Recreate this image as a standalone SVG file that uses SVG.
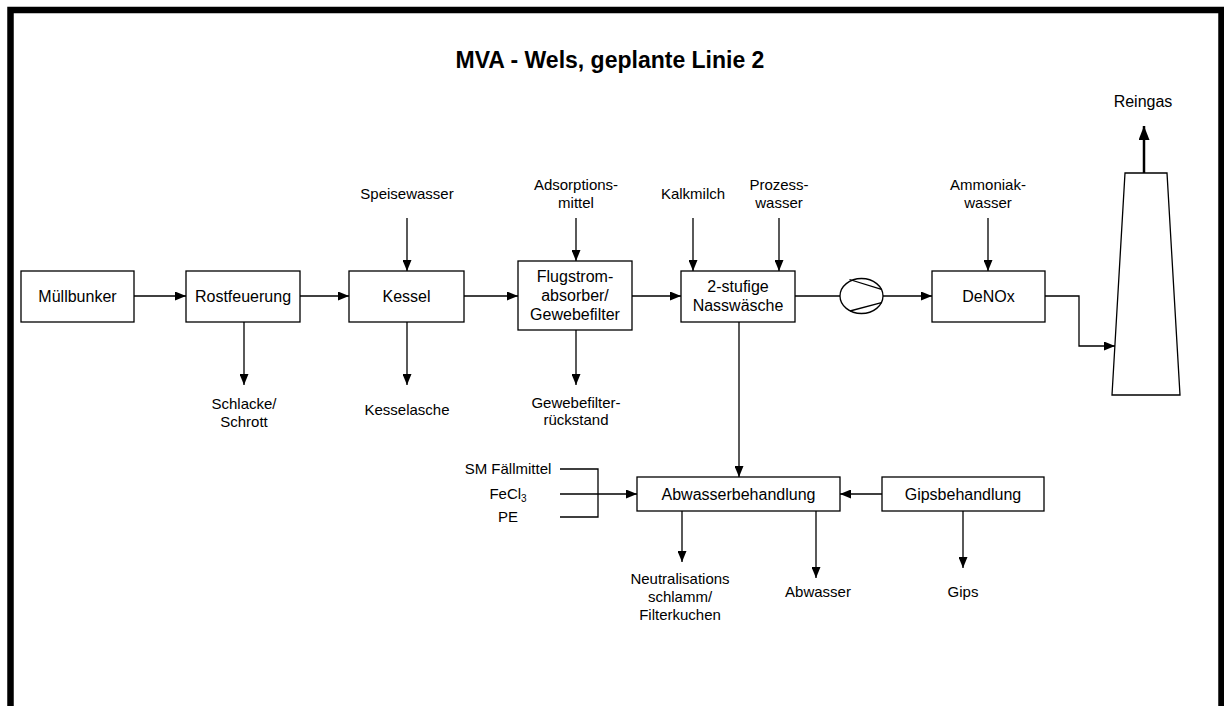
<svg xmlns="http://www.w3.org/2000/svg" width="1224" height="706" viewBox="0 0 1224 706">
<style>
.box{fill:#fff;stroke:#000;stroke-width:1.3}
.ln{fill:none;stroke:#000;stroke-width:1.3}
text{font-family:"Liberation Sans",Arial,sans-serif;fill:#000}
.bl{font-size:16px;text-anchor:middle}
.sl{font-size:15px;text-anchor:middle}
.title{font-size:23px;font-weight:bold;text-anchor:middle}
</style>
<defs>
<marker id="ah" markerUnits="userSpaceOnUse" markerWidth="12" markerHeight="9" refX="11" refY="4.5" orient="auto">
<path d="M0,0 L11,4.5 L0,9 z" fill="#000"/>
</marker>
<marker id="ahb" markerUnits="userSpaceOnUse" markerWidth="15" markerHeight="11" refX="14" refY="5.5" orient="auto">
<path d="M0,0 L14,5.5 L0,11 z" fill="#000"/>
</marker>
</defs>
<rect width="1224" height="706" fill="#fff"/>
<rect x="10.5" y="10" width="1211" height="720" fill="none" stroke="#000" stroke-width="6.5"/>
<text class="title" x="610" y="68">MVA - Wels, geplante Linie 2</text>

<g id="muellbunker"><rect class="box" x="21" y="271" width="113" height="51"/><text class="bl" x="77.5" y="302">Müllbunker</text></g>
<g id="rostfeuerung"><rect class="box" x="186" y="271" width="114" height="51"/><text class="bl" x="243" y="302">Rostfeuerung</text></g>
<g id="kessel"><rect class="box" x="349" y="271" width="115" height="51"/><text class="bl" x="406.5" y="302">Kessel</text></g>
<g id="flugstrom"><rect class="box" x="518" y="261" width="114" height="69"/><text class="bl" x="575" y="282">Flugstrom-</text><text class="bl" x="575" y="301">absorber/</text><text class="bl" x="575" y="320">Gewebefilter</text></g>
<g id="nasswaesche"><rect class="box" x="681" y="271" width="114" height="51"/><text class="bl" x="738" y="292">2-stufige</text><text class="bl" x="738" y="311">Nasswäsche</text></g>
<g id="geblaese"><ellipse class="ln" cx="861.5" cy="296" rx="21.5" ry="17.5"/><path class="ln" d="M849.5,279.5 L881.5,289.3 M850,311 L881.5,302.7"/></g>
<g id="denox"><rect class="box" x="932" y="271" width="113" height="51"/><text class="bl" x="988.5" y="302">DeNOx</text></g>
<g id="kamin"><path class="ln" d="M1125,173 L1167,173 L1180,395 L1112,395 Z"/></g>
<g id="abwasserbehandlung"><rect class="box" x="637" y="477" width="203" height="34"/><text class="bl" x="738.5" y="500">Abwasserbehandlung</text></g>
<g id="gipsbehandlung"><rect class="box" x="882" y="477" width="162" height="34"/><text class="bl" x="963" y="500">Gipsbehandlung</text></g>

<g id="labels">
<text class="bl" x="1143" y="107">Reingas</text>
<text class="sl" x="407" y="199">Speisewasser</text>
<text class="sl" x="576" y="190">Adsorptions-</text><text class="sl" x="576" y="208">mittel</text>
<text class="sl" x="693" y="199">Kalkmilch</text>
<text class="sl" x="779" y="190">Prozess-</text><text class="sl" x="779" y="208">wasser</text>
<text class="sl" x="988" y="190">Ammoniak-</text><text class="sl" x="988" y="208">wasser</text>
<text class="sl" x="244" y="409">Schlacke/</text><text class="sl" x="244" y="427">Schrott</text>
<text class="sl" x="407" y="415">Kesselasche</text>
<text class="sl" x="576" y="408">Gewebefilter-</text><text class="sl" x="576" y="425">rückstand</text>
<text class="sl" x="508" y="474">SM Fällmittel</text>
<text class="sl" x="508" y="499">FeCl<tspan font-size="10" dy="3">3</tspan></text>
<text class="sl" x="508" y="522">PE</text>
<text class="sl" x="680" y="584">Neutralisations</text><text class="sl" x="680" y="602">schlamm/</text><text class="sl" x="680" y="620">Filterkuchen</text>
<text class="sl" x="818" y="597">Abwasser</text>
<text class="sl" x="963" y="597">Gips</text>
</g>

<g id="connectors">
<path class="ln" d="M134,296 H186" marker-end="url(#ah)"/>
<path class="ln" d="M300,296 H349" marker-end="url(#ah)"/>
<path class="ln" d="M464,296 H518" marker-end="url(#ah)"/>
<path class="ln" d="M632,296 H681" marker-end="url(#ah)"/>
<path class="ln" d="M795,296 H840"/>
<path class="ln" d="M883,296 H932" marker-end="url(#ah)"/>
<path class="ln" d="M1045,296 H1079 V346 H1115" marker-end="url(#ah)"/>
<path d="M1144,173 V126" fill="none" stroke="#000" stroke-width="2.5" marker-end="url(#ahb)"/>
<path class="ln" d="M407,218 V271" marker-end="url(#ah)"/>
<path class="ln" d="M576,218 V261" marker-end="url(#ah)"/>
<path class="ln" d="M693,218 V271" marker-end="url(#ah)"/>
<path class="ln" d="M779,218 V271" marker-end="url(#ah)"/>
<path class="ln" d="M988,218 V271" marker-end="url(#ah)"/>
<path class="ln" d="M244,322 V385" marker-end="url(#ah)"/>
<path class="ln" d="M407,322 V385" marker-end="url(#ah)"/>
<path class="ln" d="M576,330 V385" marker-end="url(#ah)"/>
<path class="ln" d="M739,322 V477" marker-end="url(#ah)"/>
<path class="ln" d="M560,469 H598 V517 H560"/>
<path class="ln" d="M560,494 H637" marker-end="url(#ah)"/>
<path class="ln" d="M882,494 H840" marker-end="url(#ah)"/>
<path class="ln" d="M682,511 V562" marker-end="url(#ah)"/>
<path class="ln" d="M816,511 V578" marker-end="url(#ah)"/>
<path class="ln" d="M963,511 V568" marker-end="url(#ah)"/>
</g>
</svg>
